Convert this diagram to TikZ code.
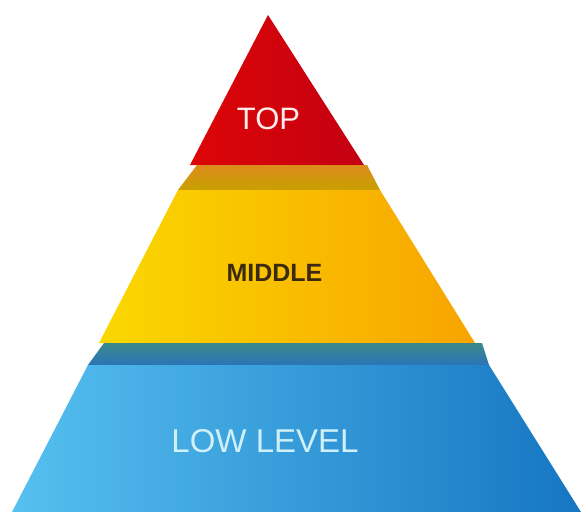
\documentclass[tikz,border=0pt]{standalone}
\usepackage{fontspec}
\setmainfont{Liberation Sans}
\definecolor{redL}{HTML}{DC0606}
\definecolor{redR}{HTML}{C40012}
\definecolor{bandA}{HTML}{DC8C1C}
\definecolor{bandB}{HTML}{C8A000}
\definecolor{yelL}{HTML}{FAD800}
\definecolor{yelR}{HTML}{F8A400}
\definecolor{tealA}{HTML}{3C8888}
\definecolor{tealB}{HTML}{2A74B8}
\definecolor{bluL}{HTML}{56C0F0}
\definecolor{bluR}{HTML}{1676C2}
\tikzset{
  lbl/.style={inner sep=0pt, font=\fontsize{#1}{#1}\selectfont},
}
\begin{document}
\begin{tikzpicture}[x=1pt,y=-1pt]
\useasboundingbox[fill=white] (0,0) rectangle (582,512);
% red top
\shade[left color=redL, right color=redR] (268,15) -- (190,165) -- (364,165) -- cycle;
% band under red
\shade[top color=bandA, bottom color=bandB] (197,165) -- (367,165) -- (380,190) -- (178,190) -- cycle;
% yellow middle
\shade[left color=yelL, right color=yelR] (178,190) -- (380,190) -- (475,343) -- (99,343) -- cycle;
% band under yellow
\shade[top color=tealA, bottom color=tealB] (104,343) -- (482,343) -- (489,365) -- (88,365) -- cycle;
% blue bottom
\shade[left color=bluL, right color=bluR] (88,365) -- (489,365) -- (581,512) -- (12,512) -- cycle;
% labels
\node[lbl=31, text=white!92!red] (top) at (268.5,119) {TOP};
\node[lbl=25, text={rgb,255:red,58;green,42;blue,16}] (middle) at (274.5,273) {\bfseries MIDDLE};
\node[lbl=33, text={rgb,255:red,208;green,240;blue,248}] (low) at (265,441) {LOW LEVEL};
\end{tikzpicture}
\end{document}
